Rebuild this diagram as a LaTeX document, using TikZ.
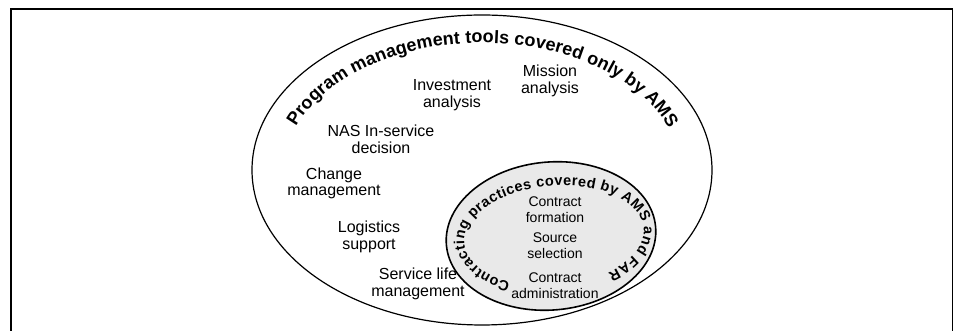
\documentclass[tikz,border=0pt]{standalone}
\usepackage{fontspec}
\setmainfont{Liberation Sans}
\usetikzlibrary{decorations.text}
\tikzset{
  lbl/.style={align=center, font=\fontsize{16}{16.5}\selectfont, inner sep=0pt},
  ilbl/.style={align=center, font=\fontsize{14}{16}\selectfont, inner sep=0pt},
  frameline/.style={line width=1.5pt},
  outerell/.style={line width=1.2pt},
  innerell/.style={line width=1.6pt, fill=gray!17},
}
\begin{document}
\begin{tikzpicture}[x=1pt,y=1pt]
\useasboundingbox (0,0) rectangle (956,331);
% frame (open at the bottom)
\draw[frameline] (11,-3) -- (11,322) -- (952.3,322) -- (952.3,-3);
% outer ellipse
\draw[outerell] (482,161) ellipse [x radius=230pt, y radius=155pt];
% inner ellipse
\draw[innerell, rotate around={5:(551,95)}] (551,95) ellipse [x radius=105pt, y radius=74pt];
% outer curved title
\path[decorate, decoration={text along path, text align=fit to path,
  text={|\bfseries\fontsize{18}{18}\selectfont|Program management tools covered only by AMS}}]
  (296.1,204.1) arc[start angle=159, end angle=20, x radius=199pt, y radius=131pt];
% inner curved title
\begin{scope}[shift={(554,95)}, rotate=5]
\path[decorate, decoration={text along path, text align=fit to path,
  text={|\bfseries\fontsize{14.5}{14.5}\selectfont|Contracting practices covered by AMS and FAR}}]
  (238:90pt and 50pt) arc[start angle=238, end angle=-56, x radius=90pt, y radius=50pt];
\end{scope}
% outer labels
\node[lbl] (inv) at (452,236) {Investment\\analysis};
\node[lbl] (mis) at (550,250) {Mission\\analysis};
\node[lbl] (nas) at (381,191.5) {NAS In-service\\decision};
\node[lbl] (chg) at (334,147.5) {Change\\management};
\node[lbl] (log) at (369,94) {Logistics\\support};
\node[lbl] (svc) at (418,47) {Service life\\management};
% inner labels
\node[ilbl] (cf) at (555,121.5) {Contract\\formation};
\node[ilbl] (ss) at (555,85) {Source\\selection};
\node[ilbl] (ca) at (555,45.5) {Contract\\administration};
\end{tikzpicture}
\end{document}
